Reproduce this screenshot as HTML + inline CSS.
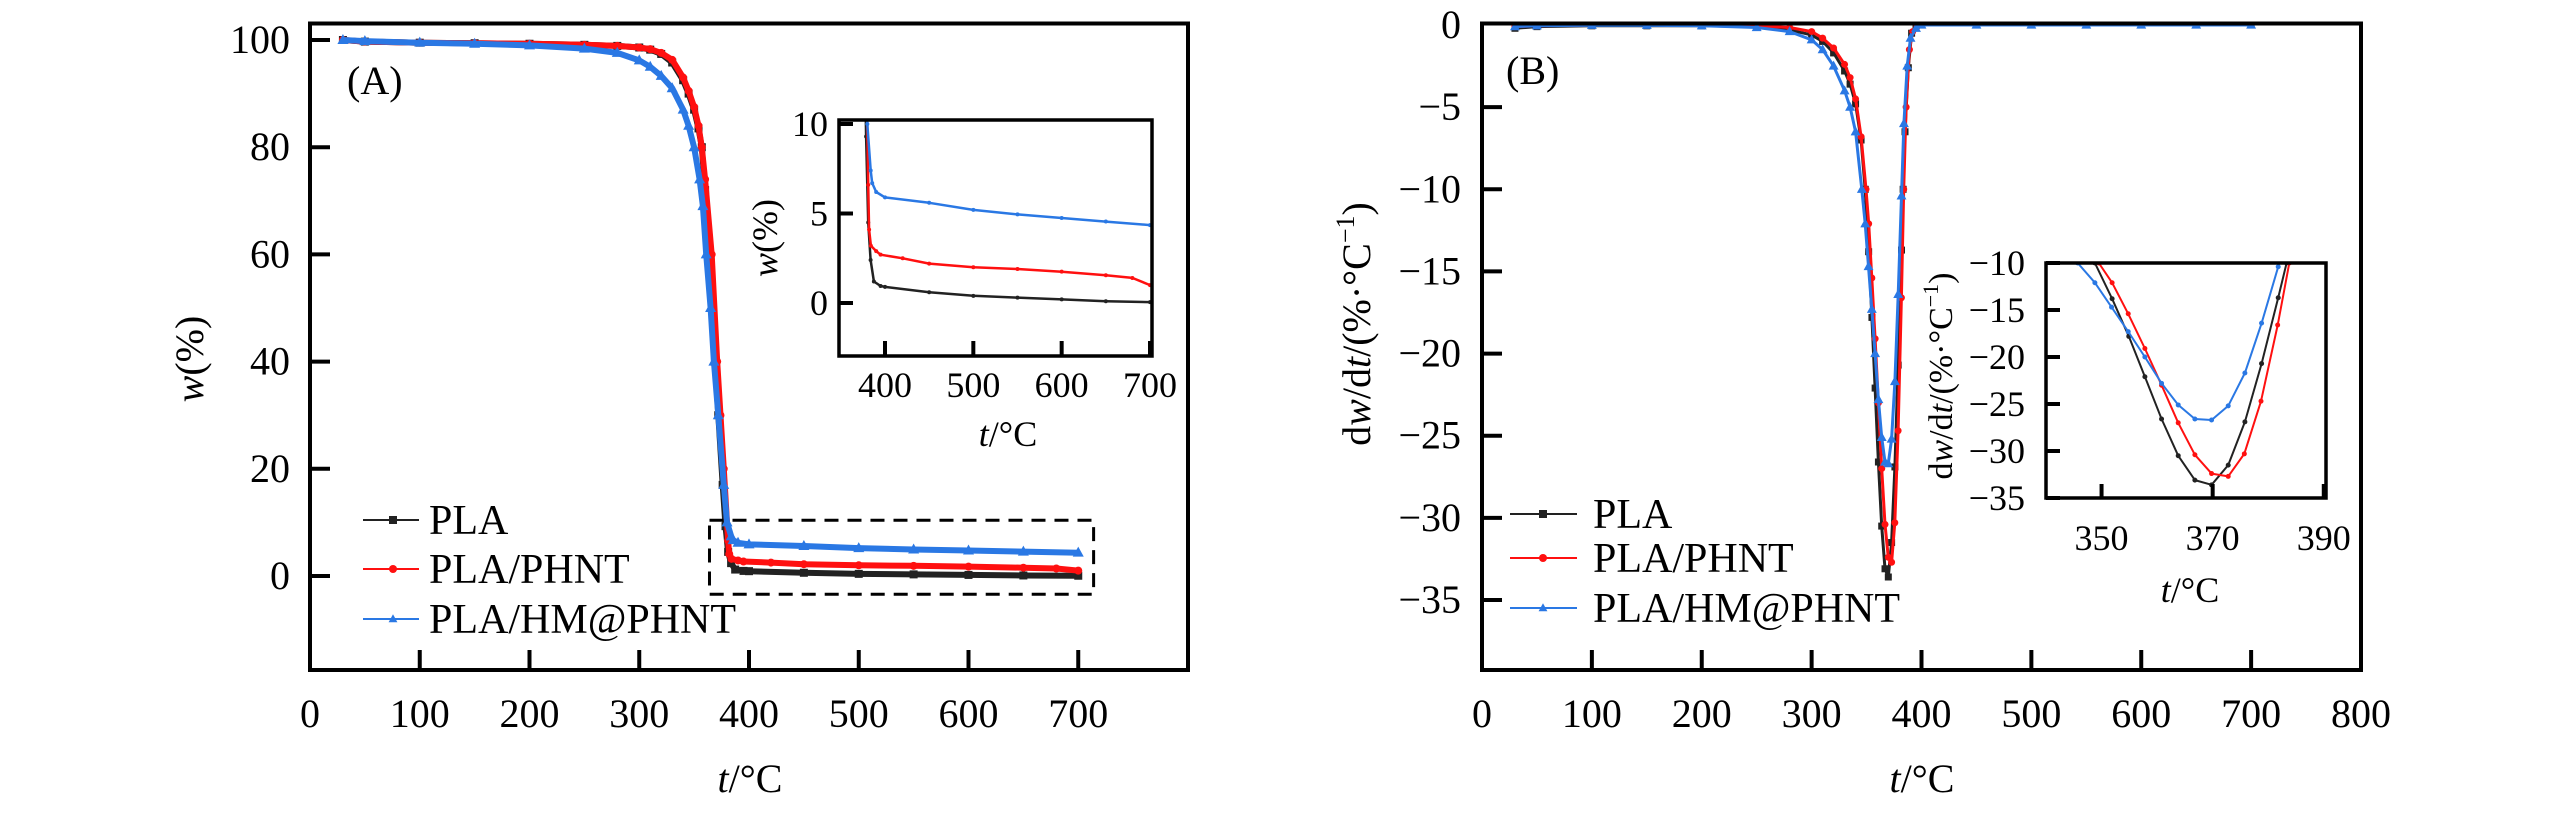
<!DOCTYPE html>
<html><head><meta charset="utf-8"><style>
html,body{margin:0;padding:0;background:#fff;}
svg{display:block;font-family:"Liberation Serif","DejaVu Serif",serif;}
</style></head><body>
<svg id="fig" width="2567" height="819" viewBox="0 0 2567 819" xmlns="http://www.w3.org/2000/svg">
<defs>
<clipPath id="clipA"><rect x="310" y="23.5" width="878" height="646.5"/></clipPath>
<clipPath id="clipAi"><rect x="839" y="120" width="313" height="236"/></clipPath>
<clipPath id="clipB"><rect x="1482" y="23.5" width="879" height="646.5"/></clipPath>
<clipPath id="clipBi"><rect x="2046" y="263" width="280" height="235"/></clipPath>
</defs>
</svg>
<script>
// ---- Data: TGA (panel A) ----
const tgaPlaT = [30,50,100,150,200,250,280,300,310,320,330,340,345,350,354,357,360,364,369,372,376,378.6,381,383.7,387.4,395,400,450,500,550,600,650,700];
const tgaPlaW = [100,99.7,99.5,99.4,99.3,99.1,98.9,98.6,98.2,97.4,95.8,92.5,90,87,83.5,80,72,60,40,30,17,9.3,4.5,2.4,1.2,0.95,0.9,0.6,0.4,0.3,0.2,0.1,0.05];
const tgaPhntT = [30,50,100,150,200,250,280,300,310,320,330,340,345,350,354,357,360,366,371,374,377,381,382,384,390,395,420,450,500,550,600,650,680,700];
const tgaPhntW = [100,99.7,99.5,99.4,99.3,99.1,98.9,98.6,98.3,97.6,96.3,93,90.5,87.5,84,80,74,60,40,30,20,6.6,4.1,3.2,2.9,2.7,2.5,2.2,2.0,1.9,1.75,1.55,1.4,1.0];
const tgaHmT = [30,50,100,150,200,250,280,300,310,320,330,340,345,350,355,358,361,365,368,372,377,380,383.8,385.5,390,400,450,500,550,600,650,700];
const tgaHmW = [100,99.8,99.5,99.3,99,98.4,97.6,96.2,95,93.3,91,87,84,80,74,69,60,50,40,30,17,10,7.4,6.7,6.2,5.9,5.6,5.2,4.95,4.75,4.55,4.35];
// ---- Data: DTG (panel B) ----
const dtgPlaT = [30,50,100,150,200,250,280,300,310,320,330,335,340,345,348.8,351.9,354.9,357.8,360.8,363.8,366.8,369.8,372.8,375.8,378.8,381.8,383.3,385,388,391,395,400,450,500,550,600,650,700];
const dtgPlaV = [-0.2,-0.1,-0.05,-0.05,-0.05,-0.1,-0.3,-0.6,-1,-1.7,-2.8,-3.6,-4.8,-7,-10,-13.8,-17.8,-22.1,-26.6,-30.5,-33.1,-33.6,-31.5,-26.9,-20.7,-13.7,-10,-6.5,-2.6,-0.5,-0.1,0,0,0,0,0,0,0];
const dtgPhntT = [30,50,100,150,200,250,280,300,310,320,330,335,340,345,349.5,351.9,354.8,357.8,360.8,363.8,366.8,369.8,372.8,375.7,378.7,381.7,383.8,386,389,392,396,400,450,500,550,600,650,700];
const dtgPhntV = [-0.1,-0.05,0,0,-0.02,-0.05,-0.15,-0.4,-0.8,-1.4,-2.4,-3.2,-4.5,-6.8,-10,-12.1,-15.4,-19.1,-23,-27,-30.4,-32.4,-32.7,-30.3,-24.7,-16.6,-10,-5,-1.5,-0.4,-0.1,0,0,0,0,0,0,0];
const dtgHmT = [30,50,100,150,200,250,280,300,310,320,330,335,340,345.7,348.8,351.8,354.8,357.8,360.8,363.8,366.8,369.8,372.8,375.8,378.8,381.8,384,387,390,395,400,450,500,550,600,650,700];
const dtgHmV = [-0.1,-0.05,-0.02,-0.02,-0.05,-0.15,-0.4,-0.9,-1.5,-2.5,-4,-5,-6.5,-10,-12.1,-14.7,-17.3,-20,-22.8,-25.1,-26.6,-26.7,-25.2,-21.7,-16.4,-10.4,-6,-2.5,-0.8,-0.2,0,0,0,0,0,0,0];
// ---- Ticks ----
const aXTicks = [0,100,200,300,400,500,600,700];
const aYTicks = [0,20,40,60,80,100];
const aiXTicks = [400,500,600,700];
const aiYTicks = [0,5,10];
const bXTicks = [0,100,200,300,400,500,600,700,800];
const bYTicks = [0,-5,-10,-15,-20,-25,-30,-35];
const biXTicks = [350,370,390];
const biYTicks = [-10,-15,-20,-25,-30,-35];
const seriesNames = ["PLA","PLA/PHNT","PLA/HM@PHNT"];

const NS="http://www.w3.org/2000/svg";
const svg=document.getElementById('fig');
function el(tag,attrs,parent){const e=document.createElementNS(NS,tag);for(const k in attrs)e.setAttribute(k,attrs[k]);(parent||svg).appendChild(e);return e;}
function lin(d0,d1,r0,r1){return v=>r0+(v-d0)*(r1-r0)/(d1-d0);}
const COL=["#222","#ff1010","#2a78e4"];

function marker(kind,x,y,s,c,g){
  let m;
  if(kind==="sq") m=el('rect',{x:x-s/2,y:y-s/2,width:s,height:s,fill:c},g);
  else if(kind==="ci") m=el('circle',{cx:x,cy:y,r:s/2,fill:c},g);
  else m=el('polygon',{points:`${x},${y-s*0.6} ${x-s*0.55},${y+s*0.4} ${x+s*0.55},${y+s*0.4}`,fill:c},g);
  
  
}
function series(ts,vs,sx,sy,clip,color,kind,lw,ms,name){
  const g=el('g',{'clip-path':`url(#${clip})`});
  
  
  const pts=ts.map((t,i)=>sx(t).toFixed(1)+','+sy(vs[i]).toFixed(1)).join(' ');
  const p=el('polyline',{points:pts,fill:'none',stroke:color,'stroke-width':lw,'stroke-linejoin':'round'},g);
  
  
  if(ms>0) ts.forEach((t,i)=>marker(kind,sx(t),sy(vs[i]),ms,color,g));
}
function text(str,x,y,size,anchor,name,extra){
  const t=el('text',Object.assign({x:x,y:y,'font-size':size,'text-anchor':anchor||'middle',fill:'#000'},extra||{}));
  t.innerHTML=str;
  
  
  return t;
}
function frame(x0,y0,x1,y1,name,w){
  const r=el('rect',{x:x0,y:y0,width:x1-x0,height:y1-y0,fill:'none',stroke:'#000','stroke-width':w||4});
  
  
}
function xticks(ticks,sx,yb,len,labY,size,showLabels,name){
  ticks.forEach(v=>{
    const l=el('line',{x1:sx(v),x2:sx(v),y1:yb,y2:yb-len,stroke:'#000','stroke-width':4});
    
    
    if(showLabels) text(String(v),sx(v),labY,size,'middle',name+'-label');
  });
}
function yticks(ticks,sy,xl,len,labX,size,name,dy){
  ticks.forEach(v=>{
    const l=el('line',{x1:xl,x2:xl+len,y1:sy(v),y2:sy(v),stroke:'#000','stroke-width':4});
    
    
    text(String(v).replace('-','\u2212'),labX,sy(v)+(dy||13),size,'end',name+'-label');
  });
}

// ===== Panel A =====
const ax=lin(0,800,310,1188), ay=lin(0,100,576,40);
series(tgaPlaT,tgaPlaW,ax,ay,'clipA',COL[0],'sq',6,8,'tga-pla');
series(tgaPhntT,tgaPhntW,ax,ay,'clipA',COL[1],'ci',6,8,'tga-pla-phnt');
series(tgaHmT,tgaHmW,ax,ay,'clipA',COL[2],'tr',6,10,'tga-pla-hm-phnt');
frame(310,23.5,1188,670,'panel-a-frame');
xticks(aXTicks.slice(1),ax,670,20,727,40,false,'a-x');
aXTicks.forEach(v=>text(String(v),ax(v),727,40,'middle','a-x-label'));
yticks(aYTicks,ay,310,20,290,40,'a-y',13);
text('<tspan font-style="italic">t</tspan>/°C',750,792,40,'middle','a-x-title');
text('<tspan font-style="italic">w</tspan>(%)',0,0,40,'middle','a-y-title',{transform:'translate(203,359) rotate(-90)'});
text('(A)',347,94,40,'start','panel-a-label');
const db=el('rect',{x:ax(364),y:ay(10.4),width:ax(714)-ax(364),height:ay(-3.4)-ay(10.4),fill:'none',stroke:'#000','stroke-width':3,'stroke-dasharray':'14,9'});


// legend A
const legA=[[520,'sq'],[569,'ci'],[619,'tr']];
legA.forEach((r,i)=>{
  const l=el('line',{x1:363,x2:419,y1:r[0],y2:r[0],stroke:COL[i],'stroke-width':2});
  
  
  marker(r[1],393,r[0],8,COL[i],svg);
  text(seriesNames[i],429,r[0]+14,42,'start','legend-a-entry');
});
// Inset A
const iax=lin(400,700,885,1150), iay=lin(0,10,303,124);
const insA=el('rect',{x:839,y:120,width:313,height:236,fill:'#fff'});


series(tgaPlaT,tgaPlaW,iax,iay,'clipAi',COL[0],'ci',2.5,4,'inset-tga-pla');
series(tgaPhntT,tgaPhntW,iax,iay,'clipAi',COL[1],'ci',2.5,4,'inset-tga-pla-phnt');
series(tgaHmT,tgaHmW,iax,iay,'clipAi',COL[2],'ci',2.5,4,'inset-tga-pla-hm-phnt');
frame(839,120,1152,356,'inset-a-frame',3.5);
xticks(aiXTicks,iax,356,15,397,36,true,'ai-x');
yticks(aiYTicks,iay,839,14,828,36,'ai-y',12);
text('<tspan font-style="italic">t</tspan>/°C',1008,446,36,'middle','ai-x-title');
text('<tspan font-style="italic">w</tspan>(%)',0,0,36,'middle','ai-y-title',{transform:'translate(777,238) rotate(-90)'});

// ===== Panel B =====
const bx=lin(0,800,1482,2361), by=lin(0,-35,25,600);
series(dtgPlaT,dtgPlaV,bx,by,'clipB',COL[0],'sq',3,7,'dtg-pla');
series(dtgPhntT,dtgPhntV,bx,by,'clipB',COL[1],'ci',3,7,'dtg-pla-phnt');
series(dtgHmT,dtgHmV,bx,by,'clipB',COL[2],'tr',3,9,'dtg-pla-hm-phnt');
frame(1482,23.5,2361,670,'panel-b-frame');
xticks(bXTicks.slice(1,8),bx,670,20,727,40,false,'b-x');
bXTicks.forEach(v=>text(String(v),bx(v),727,40,'middle','b-x-label'));
yticks(bYTicks.slice(1),by,1482,20,1461,40,'b-y',13);
text('0',1461,by(0)+13,40,'end','b-y-label');
text('<tspan font-style="italic">t</tspan>/°C',1922,792,40,'middle','b-x-title');
text('d<tspan font-style="italic">w</tspan>/d<tspan font-style="italic">t</tspan>/(%·°C<tspan font-size="26" dy="-16">−1</tspan><tspan dy="16">)</tspan>',0,0,40,'middle','b-y-title',{transform:'translate(1370,324) rotate(-90)'});
text('(B)',1506,84,40,'start','panel-b-label');
const legB=[[514,'sq'],[558,'ci'],[608,'tr']];
legB.forEach((r,i)=>{
  const l=el('line',{x1:1510,x2:1577,y1:r[0],y2:r[0],stroke:COL[i],'stroke-width':2});
  
  
  marker(r[1],1543,r[0],8,COL[i],svg);
  text(seriesNames[i],1593,r[0]+14,42,'start','legend-b-entry');
});
// Inset B
const ibx=lin(340,390.4,2046,2326), iby=lin(-10,-35,263,498);
const insB=el('rect',{x:2046,y:263,width:280,height:235,fill:'#fff'});


series(dtgPlaT,dtgPlaV,ibx,iby,'clipBi',COL[0],'ci',2,5,'inset-dtg-pla');
series(dtgPhntT,dtgPhntV,ibx,iby,'clipBi',COL[1],'ci',2,5,'inset-dtg-pla-phnt');
series(dtgHmT,dtgHmV,ibx,iby,'clipBi',COL[2],'ci',2,5,'inset-dtg-pla-hm-phnt');
frame(2046,263,2326,498,'inset-b-frame',3.5);
xticks(biXTicks,ibx,498,14,550,36,true,'bi-x');
yticks(biYTicks,iby,2046,14,2025,36,'bi-y',12);
text('<tspan font-style="italic">t</tspan>/°C',2190,602,36,'middle','bi-x-title');
text('d<tspan font-style="italic">w</tspan>/d<tspan font-style="italic">t</tspan>/(%·°C<tspan font-size="22" dy="-14">−1</tspan><tspan dy="14">)</tspan>',0,0,34,'middle','bi-y-title',{transform:'translate(1952,376) rotate(-90)'});
</script>
</body></html>
